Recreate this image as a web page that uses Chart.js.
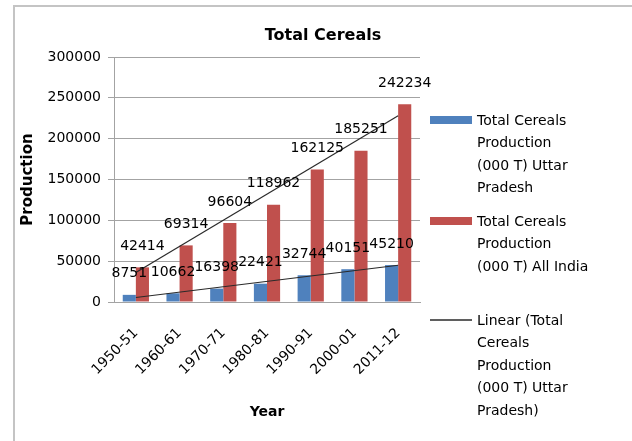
<!DOCTYPE html>
<html>
<head>
<meta charset="utf-8">
<script src="https://cdn.jsdelivr.net/npm/chart.js@4"></script>
<style>
  html, body { margin: 0; padding: 0; background: #fff; }
  #wrap { position: absolute; left: 0; top: 0; width: 632px; height: 441px; }
</style>
</head>
<body>
<div id="wrap"><canvas id="c" width="632" height="441"></canvas></div>
<script>
const years = ['1950-51', '1960-61', '1970-71', '1980-81', '1990-91', '2000-01', '2011-12'];
const upProduction = [8751, 10662, 16398, 22421, 32744, 40151, 45210];
const indiaProduction = [42414, 69314, 96604, 118962, 162125, 185251, 242234];
// trend lines (end points only)
const upTrend = [5500, null, null, null, null, null, 45000];
const indiaTrend = [36000, null, null, null, null, null, 228000];
const yMin = 0, yMax = 300000, yStep = 50000;
const chartTitle = 'Total Cereals';
const legendBlue = ['Total Cereals', 'Production', '(000 T) Uttar', 'Pradesh'];
const legendRed = ['Total Cereals', 'Production', '(000 T) All India'];
const legendLine = ['Linear (Total', 'Cereals', 'Production', '(000 T) Uttar', 'Pradesh)'];

const FONT = 'DejaVu Sans';
const BLUE = '#4F81BD', RED = '#C0504D', TREND = '#2a2a2a', GRID = '#a3a3a3';

const framePlugin = {
  id: 'frame',
  beforeDraw(chart) {
    const ctx = chart.ctx;
    ctx.save();
    ctx.strokeStyle = '#c4c4c4';
    ctx.lineWidth = 2;
    ctx.beginPath();
    ctx.moveTo(14, 441);
    ctx.lineTo(14, 6);
    ctx.lineTo(632, 6);
    ctx.stroke();
    ctx.font = 'bold 16px "' + FONT + '"';
    ctx.fillStyle = '#000';
    ctx.textAlign = 'center';
    ctx.textBaseline = 'middle';
    ctx.fillText(chartTitle, 323, 36);
    ctx.restore();
  }
};

const labelPlugin = {
  id: 'barLabels',
  afterDatasetsDraw(chart) {
    const ctx = chart.ctx;
    ctx.save();
    ctx.font = '14px "' + FONT + '"';
    ctx.fillStyle = '#000';
    ctx.textAlign = 'center';
    ctx.textBaseline = 'middle';
    [0, 1].forEach(di => {
      const meta = chart.getDatasetMeta(di);
      const data = chart.data.datasets[di].data;
      meta.data.forEach((el, i) => {
        ctx.fillText(String(data[i]), el.x, el.y - 21);
      });
    });
    ctx.restore();
  }
};

const legendPlugin = {
  id: 'sideLegend',
  afterDraw(chart) {
    const ctx = chart.ctx;
    ctx.save();
    ctx.font = '14px "' + FONT + '"';
    ctx.fillStyle = '#000';
    ctx.textAlign = 'left';
    ctx.textBaseline = 'middle';
    const sx = 430, sw = 42, tx = 477, lh = 22.5;
    const blocks = [
      { y: 120, lines: legendBlue, type: 'bar', color: BLUE },
      { y: 221, lines: legendRed, type: 'bar', color: RED },
      { y: 320, lines: legendLine, type: 'line', color: TREND }
    ];
    blocks.forEach(b => {
      if (b.type === 'bar') {
        ctx.fillStyle = b.color;
        ctx.fillRect(sx, b.y - 4, sw, 8);
      } else {
        ctx.strokeStyle = b.color;
        ctx.lineWidth = 1.5;
        ctx.beginPath();
        ctx.moveTo(sx, b.y);
        ctx.lineTo(sx + sw, b.y);
        ctx.stroke();
      }
      ctx.fillStyle = '#000';
      b.lines.forEach((t, i) => ctx.fillText(t, tx, b.y + 1 + i * lh));
    });
    ctx.restore();
  }
};

new Chart(document.getElementById('c'), {
  type: 'bar',
  data: {
    labels: years,
    datasets: [
      { label: 'Total Cereals Production (000 T) Uttar Pradesh', data: upProduction, backgroundColor: BLUE, order: 2,
        categoryPercentage: 0.6, barPercentage: 1.0 },
      { label: 'Total Cereals Production (000 T) All India', data: indiaProduction, backgroundColor: RED, order: 2,
        categoryPercentage: 0.6, barPercentage: 1.0 },
      { type: 'line', label: 'Linear (Total Cereals Production (000 T) Uttar Pradesh)', data: upTrend,
        borderColor: TREND, borderWidth: 1.2, pointRadius: 0, spanGaps: true, fill: false, order: 0 },
      { type: 'line', label: 'Linear (Total Cereals Production (000 T) All India)', data: indiaTrend,
        borderColor: TREND, borderWidth: 1.2, pointRadius: 0, spanGaps: true, fill: false, order: 0 }
    ]
  },
  options: {
    responsive: false,
    animation: false,
    devicePixelRatio: 1,
    layout: { padding: { left: 14, right: 212, top: 57, bottom: 0 } },
    plugins: {
      legend: { display: false },
      tooltip: { enabled: false },
      title: { display: false }
    },
    scales: {
      x: {
        grid: { display: false },
        border: { display: true, color: GRID, width: 1 },
        ticks: {
          color: '#000', font: { family: FONT, size: 14 },
          minRotation: 45, maxRotation: 45, autoSkip: false, padding: 15
        },
        title: {
          display: true, text: 'Year', color: '#000',
          font: { family: FONT, size: 14, weight: 'bold' },
          padding: { top: 0, bottom: 20 }
        },
        afterFit(scale) { scale.height = 139; }
      },
      y: {
        min: yMin, max: yMax,
        ticks: { stepSize: yStep, color: '#000', font: { family: FONT, size: 14 }, padding: 7,
          callback: v => String(v) },
        grid: { color: GRID, lineWidth: 1, tickLength: 6, drawTicks: true },
        border: { display: true, color: GRID, width: 1 },
        title: {
          display: true, text: 'Production', color: '#000',
          font: { family: FONT, size: 15, weight: 'bold' },
          padding: { top: 5, bottom: 0 }
        },
        afterFit(scale) { scale.width = 100; }
      }
    }
  },
  plugins: [framePlugin, labelPlugin, legendPlugin]
});
</script>
</body>
</html>
